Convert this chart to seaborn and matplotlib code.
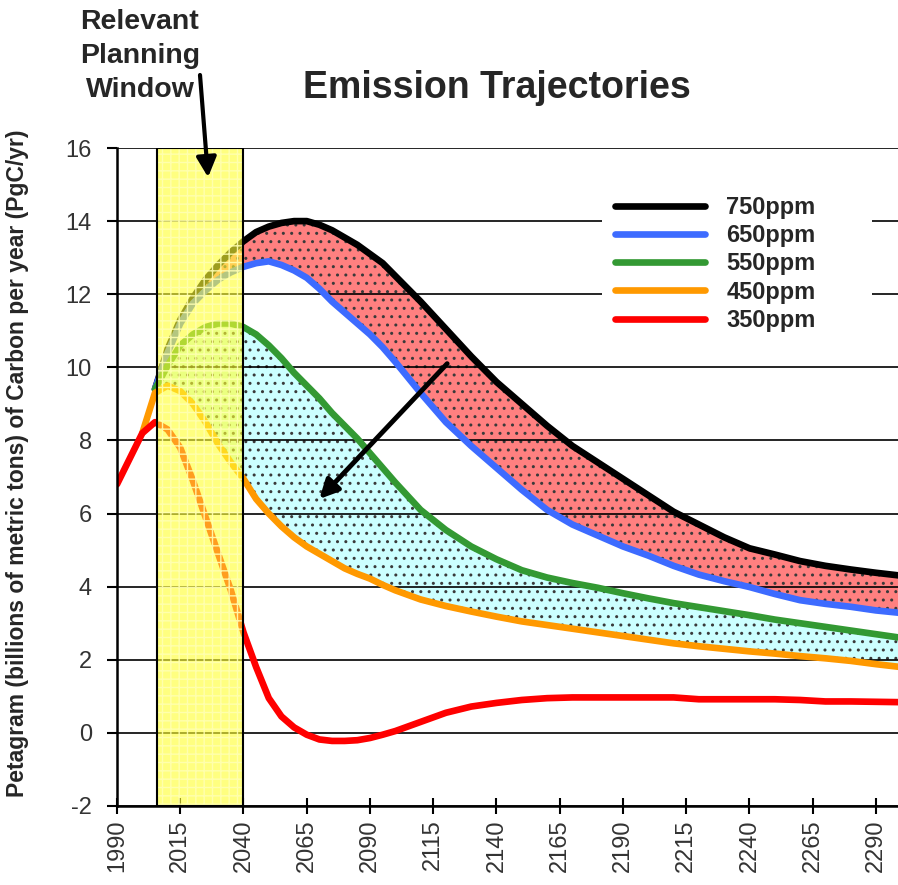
import numpy as np
import pandas as pd
import matplotlib
matplotlib.use("Agg")
import matplotlib.pyplot as plt
import seaborn as sns
from matplotlib.patches import Rectangle

# Emission trajectories (PgC/yr)
years = [1990, 1995, 2000, 2005, 2010, 2015, 2020, 2025, 2030, 2035, 2040,
         2045, 2050, 2055, 2060, 2065, 2070, 2075, 2080, 2085, 2090, 2095,
         2100, 2110, 2120, 2130, 2140, 2150, 2160, 2170, 2180, 2190, 2200,
         2210, 2220, 2230, 2240, 2250, 2260, 2270, 2280, 2290, 2300]
nan = np.nan
ppm750 = [nan, nan, nan, 9.4, 10.5, 11.3, 11.9, 12.4, 12.8, 13.15, 13.45,
          13.7, 13.85, 13.95, 14.0, 14.0, 13.9, 13.75, 13.55, 13.35, 13.1, 12.85,
          12.5, 11.8, 11.05, 10.3, 9.6, 9.0, 8.4, 7.85, 7.4, 6.95, 6.5,
          6.05, 5.7, 5.35, 5.05, 4.88, 4.7, 4.57, 4.47, 4.38, 4.3]
ppm650 = [nan, nan, nan, 9.4, 10.4, 11.2, 11.75, 12.1, 12.4, 12.6, 12.75,
          12.85, 12.9, 12.8, 12.65, 12.45, 12.15, 11.8, 11.5, 11.2, 10.9, 10.55,
          10.15, 9.3, 8.5, 7.85, 7.25, 6.65, 6.1, 5.7, 5.4, 5.1, 4.85,
          4.57, 4.33, 4.15, 3.99, 3.8, 3.63, 3.53, 3.45, 3.35, 3.28]
ppm550 = [nan, nan, nan, 9.4, 10.05, 10.6, 10.9, 11.1, 11.2, 11.2, 11.1,
          10.9, 10.6, 10.25, 9.85, 9.5, 9.15, 8.75, 8.4, 8.05, 7.65, 7.25,
          6.85, 6.1, 5.55, 5.1, 4.75, 4.45, 4.25, 4.1, 3.97, 3.82, 3.68,
          3.55, 3.44, 3.33, 3.22, 3.1, 3.0, 2.9, 2.8, 2.7, 2.6]
ppm450 = [nan, nan, 8.2, 9.3, 9.5, 9.35, 9.0, 8.5, 7.9, 7.4, 6.95,
          6.4, 6.0, 5.65, 5.35, 5.1, 4.9, 4.7, 4.5, 4.35, 4.22, 4.05,
          3.9, 3.65, 3.47, 3.32, 3.18, 3.05, 2.95, 2.85, 2.75, 2.65, 2.55,
          2.45, 2.37, 2.3, 2.23, 2.17, 2.1, 2.04, 1.97, 1.88, 1.8]
ppm350 = [6.8, 7.5, 8.2, 8.5, 8.3, 7.8, 6.9, 5.9, 4.9, 3.9, 2.75,
          1.8, 0.95, 0.45, 0.15, -0.05, -0.18, -0.22, -0.22, -0.2, -0.14, -0.05,
          0.05, 0.3, 0.55, 0.72, 0.82, 0.9, 0.95, 0.97, 0.97, 0.97, 0.97,
          0.97, 0.92, 0.92, 0.92, 0.92, 0.9, 0.86, 0.86, 0.85, 0.84]

scenarios = ['750ppm', '650ppm', '550ppm', '450ppm', '350ppm']
palette = {'750ppm': '#000000', '650ppm': '#3D6BFF', '550ppm': '#339933',
           '450ppm': '#FF9900', '350ppm': '#FF0000'}
window = (2006, 2040)
xticks = list(range(1990, 2291, 25))
yticks = list(range(-2, 17, 2))

df = pd.DataFrame({'year': years, '750ppm': ppm750, '650ppm': ppm650,
                   '550ppm': ppm550, '450ppm': ppm450, '350ppm': ppm350})
long_df = df.melt(id_vars='year', var_name='scenario',
                  value_name='emission').dropna()

sns.set_theme(style='white')
plt.rcParams['font.family'] = ['Liberation Sans', 'DejaVu Sans']
plt.rcParams['hatch.linewidth'] = 1.0
plt.rcParams['axes.unicode_minus'] = False

fig = plt.figure(figsize=(8.98, 8.85), dpi=100)
ax = fig.add_axes([117 / 898, 1 - 806 / 885, 781 / 898, 658 / 885])
ax.set_axisbelow('line')

# shaded bands between scenario pairs
ax.fill_between(df['year'], df['650ppm'], df['750ppm'], facecolor='#FF8080',
                edgecolor='#3a3a3a', hatch='..', linewidth=0, zorder=1)
ax.fill_between(df['year'], df['450ppm'], df['550ppm'], facecolor='#CCFFFF',
                edgecolor='#3a3a3a', hatch='..', linewidth=0, zorder=1)

sns.lineplot(data=long_df, x='year', y='emission', hue='scenario',
             hue_order=scenarios, palette=palette, linewidth=4.8,
             estimator=None, ax=ax, zorder=2)

ax.set_xlim(1990, 2298.7)
ax.set_ylim(-2, 16)
ax.set_xticks(xticks)
ax.set_yticks(yticks)
ax.set_xlabel('')
ax.set_ylabel('')
ax.yaxis.grid(True, color='black', linewidth=1.2)
ax.xaxis.grid(False)
for side in ['top', 'right']:
    ax.spines[side].set_visible(False)
for side in ['left', 'bottom']:
    ax.spines[side].set_color('black')
    ax.spines[side].set_linewidth(1.8)
ax.tick_params(axis='y', direction='out', length=7, width=1.5, pad=11,
               labelsize=17, labelcolor='#333333', color='black', left=True)
ax.tick_params(axis='x', direction='inout', length=11, width=1.5, pad=4,
               labelsize=17, labelcolor='#333333', color='black',
               labelrotation=90, bottom=True)

# planning window
ax.add_patch(Rectangle((window[0], -2), window[1] - window[0], 18,
                       facecolor=(1, 1, 0.2, 0.62), edgecolor=(1, 1, 0.7, 0.9),
                       hatch='++', linewidth=0, zorder=3))
ax.add_patch(Rectangle((window[0], -2), window[1] - window[0], 18,
                       fill=False, edgecolor='black', linewidth=1.5, zorder=3.1))

# white block behind the legend
ax.add_patch(Rectangle((0.621, 0.708), 0.346, 0.236, transform=ax.transAxes,
                       facecolor='white', edgecolor='none', zorder=1.8))
handles, labels = ax.get_legend_handles_labels()
leg = ax.legend(handles, labels, loc='upper left', bbox_to_anchor=(0.638, 0.927),
                frameon=False, borderaxespad=0, borderpad=0, handlelength=3.8,
                handletextpad=0.9, labelspacing=0.22,
                prop={'weight': 'bold', 'size': 17})
leg.set_zorder(5)
for line in leg.get_lines():
    line.set_linewidth(4.8)
    line.set_solid_capstyle('round')

# arrows
ax.annotate('', xy=(2070, 6.4), xytext=(2120.5, 10.1),
            arrowprops=dict(arrowstyle='-|>', lw=3.5, color='black',
                            mutation_scale=28, shrinkA=0, shrinkB=0),
            zorder=4)
ax.annotate('', xy=(2026, 15.2), xycoords='data',
            xytext=(200 / 898, 1 - 75 / 885), textcoords='figure fraction',
            arrowprops=dict(arrowstyle='-|>', lw=3, color='black',
                            mutation_scale=30, shrinkA=0, shrinkB=0),
            annotation_clip=False, zorder=4)

fig.text(140 / 898, 1 - 56 / 885, 'Relevant\nPlanning\nWindow', ha='center',
         va='center', fontsize=20.5, fontweight='bold', linespacing=1.38)
fig.text(497 / 898, 1 - 88 / 885, 'Emission Trajectories', ha='center',
         va='center', fontsize=27, fontweight='bold')
fig.text(18 / 898, 1 - 463 / 885,
         'Petagram (billions of metric tons) of Carbon per year (PgC/yr)',
         rotation=90, ha='center', va='center', fontsize=16.5, fontweight='bold')

fig.savefig('out.png', dpi=100)
